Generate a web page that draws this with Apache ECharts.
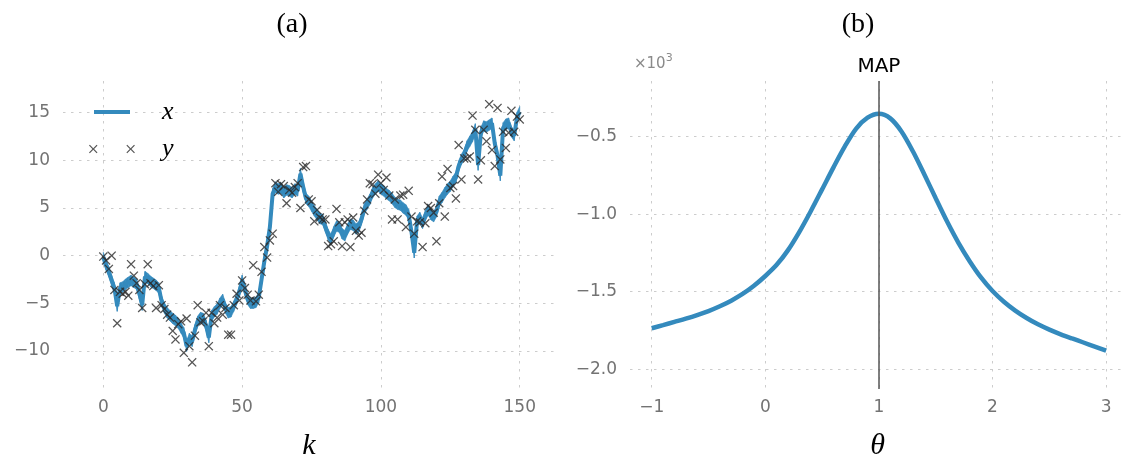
<!DOCTYPE html>
<html>
<head>
<meta charset="utf-8">
<style>
  html, body { margin: 0; padding: 0; background: #ffffff; }
  #chart { width: 1125px; height: 459px; }
</style>
<script src="https://cdn.jsdelivr.net/npm/echarts@6/dist/echarts.min.js"></script>
</head>
<body>
<div id="chart"></div>
<script>
// (a) smoothed state estimate x_k (mean with a narrow band) and noisy observations y_k, k = 0..150
const xMean = [
  -0.2, -1.0, -1.7, -2.6, -3.4, -5.3, -3.4, -3.3, -3.0, -2.8,
  -2.6, -2.8, -3.0, -4.0, -5.2, -2.2, -2.4, -2.7, -2.9, -3.1,
  -3.4, -4.8, -5.5, -6.0, -6.3, -6.6, -6.8, -7.1, -7.6, -8.1,
  -9.5, -8.7, -9.0, -7.8, -6.9, -6.5, -6.6, -7.3, -8.6, -6.3,
  -5.9, -5.6, -5.0, -4.6, -5.5, -6.0, -5.9, -5.3, -4.6, -3.8,
  -2.6, -3.6, -4.6, -5.0, -5.0, -4.9, -4.4, -2.5, -0.6, 1.0,
  3.0, 6.5, 7.2, 7.0, 7.1, 6.6, 6.9, 6.8, 6.6, 7.0,
  6.8, 8.6, 7.2, 6.0, 5.7, 5.2, 4.7, 4.3, 3.9, 3.8,
  3.0, 2.2, 1.7, 2.5, 3.1, 3.0, 2.3, 2.1, 2.8, 3.3,
  3.2, 2.8, 3.0, 3.8, 4.9, 5.4, 5.9, 6.6, 7.0, 7.3,
  7.0, 6.8, 6.5, 6.3, 6.0, 5.6, 5.4, 5.3, 5.0, 4.8,
  4.3, 2.5, 0.3, 3.6, 4.0, 3.4, 4.2, 4.8, 4.3, 4.1,
  4.6, 5.7, 6.1, 6.6, 7.0, 7.3, 7.8, 8.2, 9.4, 10.1,
  10.6, 11.5, 12.0, 12.5, 13.3, 9.5, 12.9, 13.6, 13.5, 13.7,
  13.9, 11.8, 10.5, 8.4, 13.4, 13.8, 13.9, 13.0, 12.6, 14.5,
  15.1
];
const xStd = 0.55;

const yObs = [
  -0.1, -0.5, -1.4, 0.0, -3.6, -7.1, -3.8, -4.0, -3.8, -4.2,
  -0.9, -2.1, -2.9, -3.6, -5.5, -3.0, -0.9, -2.9, -3.2, -5.5,
  -3.1, -5.2, -5.6, -6.2, -6.5, -7.9, -8.8, -7.2, -6.9, -10.2,
  -6.6, -9.5, -11.2, -8.4, -5.2, -7.0, -6.9, -6.0, -9.5, -6.0,
  -7.1, -6.5, -5.2, -6.2, -5.5, -8.3, -8.3, -5.2, -4.0, -4.7,
  -2.6, -3.4, -4.1, -4.7, -1.0, -4.8, -4.1, -1.7, 0.9, -0.2,
  1.6, 2.3, 7.6, 6.7, 7.5, 7.3, 5.5, 6.9, 6.6, 7.2,
  7.6, 5.0, 9.3, 9.4, 5.9, 5.7, 3.6, 4.8, 4.0, 3.8,
  3.8, 1.0, 1.2, 1.5, 4.9, 3.5, 1.0, 3.5, 3.8, 0.9,
  4.0, 2.6, 2.1, 2.4, 4.7, 5.9, 7.6, 7.5, 6.5, 8.5,
  7.6, 6.9, 8.2, 6.3, 3.8, 5.9, 3.8, 6.3, 6.4, 3.0,
  6.8, 4.1, 2.3, 3.6, 3.5, 0.9, 3.4, 5.2, 5.0, 4.5,
  1.5, 5.5, 8.3, 4.1, 9.1, 7.1, 7.3, 6.0, 11.6, 8.0,
  10.2, 10.2, 10.4, 14.7, 13.2, 8.0, 10.0, 13.2, 12.0, 15.9,
  11.1, 9.4, 15.5, 10.1, 13.0, 11.3, 12.9, 15.2, 13.0, 14.6,
  14.3
];

const kTicks = [0, 50, 100, 150];
const xTicksA = [-10, -5, 0, 5, 10, 15];

// (b) log-likelihood over theta, with the MAP estimate marked
const theta = [
  -1.0, -0.9, -0.8, -0.7, -0.6, -0.5, -0.4, -0.3, -0.2, -0.1,
  0.0, 0.1, 0.2, 0.3, 0.4, 0.5, 0.6, 0.7, 0.8, 0.9,
  1.0, 1.1, 1.2, 1.3, 1.4, 1.5, 1.6, 1.7, 1.8, 1.9,
  2.0, 2.1, 2.2, 2.3, 2.4, 2.5, 2.6, 2.7, 2.8, 2.9, 3.0
];
const logLik = [
  -1736, -1716, -1695, -1674, -1651, -1625, -1594, -1558, -1515, -1462,
  -1399, -1327, -1232, -1114, -981, -840, -698, -563, -448, -378,
  -353, -382, -468, -596, -744, -898, -1048, -1185, -1305, -1410,
  -1496, -1565, -1622, -1670, -1711, -1745, -1775, -1802, -1828, -1854, -1881
];
const thetaMap = 1.0;
const thetaTicks = [-1, 0, 1, 2, 3];
const logLikTicks = [-2000, -1500, -1000, -500];

const BLUE = '#348ABD';
const TICK_GRAY = '#737373';
const GRID_GRAY = '#cccccc';
const minus = s => String(s).replace('-', '\u2212');

const crossPath = 'path://M0,1L1,0L5,4L9,0L10,1L6,5L10,9L9,10L5,6L1,10L0,9L4,5Z';
const crossPairPath = 'path://M0,1L1,0L5,4L9,0L10,1L6,5L10,9L9,10L5,6L1,10L0,9L4,5Z' +
  'M44,1L45,0L49,4L53,0L54,1L50,5L54,9L53,10L49,6L45,10L44,9L48,5Z';

const tickFont = { fontFamily: 'DejaVu Sans', fontSize: 17, color: TICK_GRAY };
const mathFont = { fontFamily: 'Liberation Serif', fontStyle: 'italic', color: '#000' };
const gridLine = { show: true, lineStyle: { color: GRID_GRAY, width: 1, type: [2.5, 5.5] } };
const panelTitle = { fontFamily: 'Liberation Serif', fontWeight: 'normal', fontSize: 28, color: '#000' };

function valueAxis(gridIndex, min, max, ticks, fmt, margin, extra) {
  return Object.assign({
    type: 'value', gridIndex, min, max,
    axisLine: { show: false },
    axisTick: { show: false, customValues: ticks },
    axisLabel: Object.assign({ customValues: ticks, formatter: fmt, margin }, tickFont),
    splitLine: gridLine
  }, extra || {});
}

// band x ± std: one quadrilateral per step k -> k+1, placed through the axis scales
const bandSteps = xMean.slice(0, -1).map((v, i) => [i, v, xMean[i + 1]]);
function renderBand(params, api) {
  const k = api.value(0);
  const a = api.value(1);
  const b = api.value(2);
  const pts = [
    api.coord([k, a + xStd]), api.coord([k + 1, b + xStd]),
    api.coord([k + 1, b - xStd]), api.coord([k, a - xStd])
  ];
  return { type: 'polygon', shape: { points: pts },
    style: { fill: BLUE, stroke: BLUE, lineWidth: 0.6 } };
}

const chart = echarts.init(document.getElementById('chart'), null, { renderer: 'canvas' });
chart.setOption({
  backgroundColor: '#ffffff',
  animation: false,
  title: [
    { text: '(a)', left: 287, top: 6, textAlign: 'center', textStyle: panelTitle },
    { text: '(b)', left: 853, top: 6, textAlign: 'center', textStyle: panelTitle }
  ],
  legend: [
    { data: [{ name: 'x', icon: 'rect' }], left: 94, top: 99, itemWidth: 36, itemHeight: 4, padding: 0,
      selectedMode: false, orient: 'vertical',
      textStyle: Object.assign({ fontSize: 26, padding: [0, 0, 0, 27] }, mathFont) },
    { data: [{ name: 'y', icon: crossPairPath }], left: 89, top: 136, itemWidth: 46, itemHeight: 8.5, padding: 0,
      selectedMode: false, orient: 'vertical',
      textStyle: Object.assign({ fontSize: 26, padding: [0, 0, 0, 22] }, mathFont) }
  ],
  grid: [
    { left: 63, top: 81, width: 492, height: 308, containLabel: false, outerBoundsMode: 'none' },
    { left: 630, top: 81, width: 495, height: 308, containLabel: false, outerBoundsMode: 'none' }
  ],
  graphic: [
    { type: 'text', left: 634, top: 53, silent: true,
      style: { text: '{a|\u00d710}{b|3}', rich: {
        a: { fontFamily: 'DejaVu Sans', fontSize: 15, fill: '#8a8a8a', padding: [6, 0, 0, 0] },
        b: { fontFamily: 'DejaVu Sans', fontSize: 11, fill: '#8a8a8a', padding: [0, 0, 6, 0] }
      } } }
  ],
  xAxis: [
    valueAxis(0, -14.52, 162.7, kTicks, v => minus(v), 10,
      { name: 'k', nameLocation: 'middle', nameGap: 42, nameTextStyle: Object.assign({ fontSize: 30 }, mathFont) }),
    valueAxis(1, -1.191, 3.166, thetaTicks, v => minus(v), 10,
      { name: '\u03b8', nameLocation: 'middle', nameGap: 42, nameTextStyle: Object.assign({ fontSize: 30 }, mathFont) })
  ],
  yAxis: [
    valueAxis(0, -14.0, 18.33, xTicksA, v => minus(v), 13),
    valueAxis(1, -2128, -141, logLikTicks, v => minus((v / 1000).toFixed(1)), 13)
  ],
  series: [
    { name: 'xBand', type: 'custom', coordinateSystem: 'cartesian2d', xAxisIndex: 0, yAxisIndex: 0,
      dimensions: ['k', 'from', 'to'], encode: { x: 0, y: [1, 2] },
      data: bandSteps, renderItem: renderBand, silent: true, z: 2 },
    { name: 'x', type: 'line', xAxisIndex: 0, yAxisIndex: 0, data: xMean.map((v, i) => [i, v]),
      showSymbol: false, silent: true, itemStyle: { color: BLUE },
      lineStyle: { color: BLUE, width: 4 }, z: 3 },
    { name: 'y', type: 'scatter', xAxisIndex: 0, yAxisIndex: 0,
      data: yObs.map((v, i) => [i, v]), symbol: crossPath, symbolSize: 9, silent: true,
      itemStyle: { color: '#2a2a2a' }, z: 4 },
    { name: 'loglik', type: 'line', xAxisIndex: 1, yAxisIndex: 1,
      data: theta.map((t, i) => [t, logLik[i]]), smooth: 0.3, showSymbol: false, silent: true,
      lineStyle: { color: BLUE, width: 4.5 }, itemStyle: { color: BLUE }, z: 3,
      markLine: {
        silent: true, symbol: 'none', animation: false,
        lineStyle: { color: '#555555', width: 1.5, type: 'solid' },
        label: { show: true, position: 'end', formatter: 'MAP', distance: 4,
          fontFamily: 'DejaVu Sans', fontSize: 20, color: '#000' },
        data: [{ xAxis: thetaMap }]
      } }
  ]
});
</script>
</body>
</html>
